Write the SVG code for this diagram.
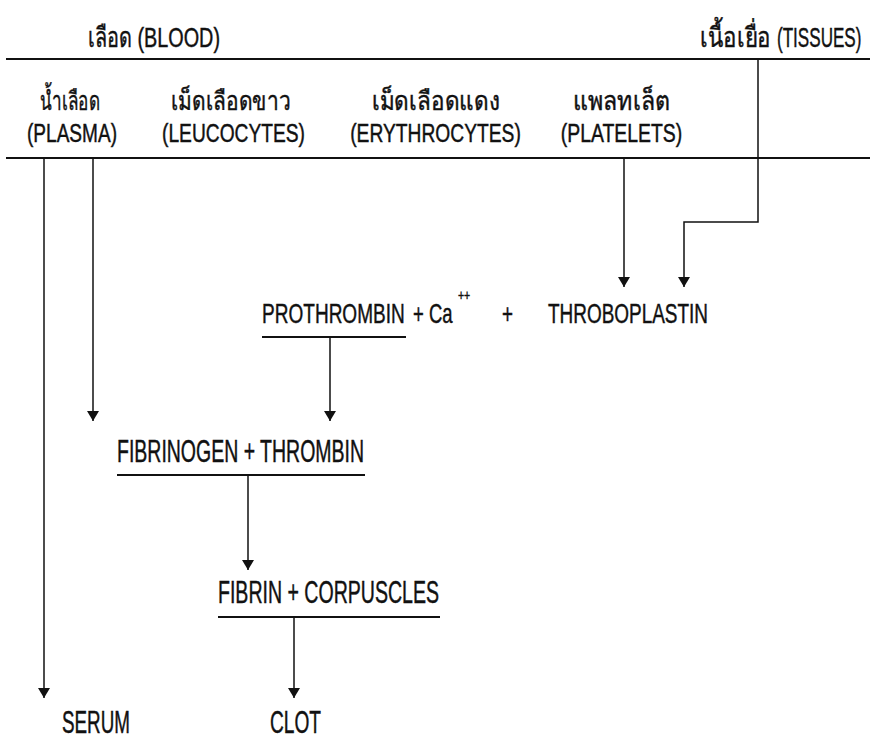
<svg xmlns="http://www.w3.org/2000/svg" width="870" height="740" viewBox="0 0 870 740">
<defs>
<marker id="ah" markerUnits="userSpaceOnUse" markerWidth="12" markerHeight="12" refX="10" refY="6" orient="auto" viewBox="0 0 12 12">
<path d="M0,0 L10,6 L0,12 z" fill="#111"/>
</marker>
<style>
text{font-family:"Liberation Sans","DejaVu Sans","Noto Sans",sans-serif;fill:#111;stroke:#111;stroke-width:0.45}
.t{font-size:28px}
.r{font-size:26px;text-anchor:middle}
.b{font-size:31px}
.rule{stroke:#111;stroke-width:2;fill:none}
.con{stroke:#111;stroke-width:1.5;fill:none;marker-end:url(#ah)}
</style>
</defs>
<rect width="870" height="740" fill="#fff"/>
<g id="rules">
<line class="rule" x1="6" y1="59" x2="870" y2="59"/>
<line class="rule" x1="6" y1="158" x2="870" y2="158"/>
</g>
<g id="blood"><text class="t" x="88" y="47" textLength="132" lengthAdjust="spacingAndGlyphs">เลือด (BLOOD)</text></g>
<g id="tissues"><text class="t" x="771" y="47" text-anchor="end" textLength="71" lengthAdjust="spacingAndGlyphs">เนื้อเยื่อ</text><text class="t" transform="translate(777,47) scale(0.61,1)" x="0" y="0">(TISSUES)</text></g>
<g id="plasma"><text class="r" x="70" y="110" textLength="60" lengthAdjust="spacingAndGlyphs">น้ำเลือด</text><text class="r" x="72" y="142" textLength="90" lengthAdjust="spacingAndGlyphs">(PLASMA)</text></g>
<g id="leucocytes"><text class="r" x="231" y="110" textLength="120" lengthAdjust="spacingAndGlyphs">เม็ดเลือดขาว</text><text class="r" x="233.5" y="142" textLength="143" lengthAdjust="spacingAndGlyphs">(LEUCOCYTES)</text></g>
<g id="erythrocytes"><text class="r" x="436" y="110" textLength="128" lengthAdjust="spacingAndGlyphs">เม็ดเลือดแดง</text><text class="r" transform="translate(435.5,142) scale(0.74,1)" x="0" y="0">(ERYTHROCYTES)</text></g>
<g id="platelets"><text class="r" x="621.5" y="110" textLength="97" lengthAdjust="spacingAndGlyphs">แพลทเล็ต</text><text class="r" transform="translate(621.5,142) scale(0.747,1)" x="0" y="0">(PLATELETS)</text></g>
<g id="prothrombin"><text class="t" transform="translate(262,323) scale(0.68,1)" x="0" y="0">PROTHROMBIN</text><line class="rule" x1="262" y1="337" x2="406" y2="337"/></g>
<g id="calcium"><text class="t" transform="translate(413,323) scale(0.66,1)" x="0" y="0">+ Ca</text><text transform="translate(458,300) scale(0.75,1)" x="0" y="0" font-size="14" stroke="none">++</text></g>
<g id="plus"><text class="t" x="502" y="323" textLength="11" lengthAdjust="spacingAndGlyphs">+</text></g>
<g id="throboplastin"><text class="t" x="548" y="323" textLength="160" lengthAdjust="spacingAndGlyphs">THROBOPLASTIN</text></g>
<g id="fibrinogen"><text class="b" x="117" y="462" textLength="247" lengthAdjust="spacingAndGlyphs">FIBRINOGEN + THROMBIN</text><line class="rule" x1="117" y1="475" x2="365" y2="475" stroke-width="2.5"/></g>
<g id="fibrin"><text class="b" x="218" y="603" textLength="221" lengthAdjust="spacingAndGlyphs">FIBRIN + CORPUSCLES</text><line class="rule" x1="218" y1="617" x2="440" y2="617" stroke-width="2.5"/></g>
<g id="serum"><text class="b" x="62" y="733" textLength="68" lengthAdjust="spacingAndGlyphs">SERUM</text></g>
<g id="clot"><text class="b" x="270" y="733" textLength="51" lengthAdjust="spacingAndGlyphs">CLOT</text></g>
<g id="connectors">
<path class="con" d="M44,158 V698"/>
<path class="con" d="M93,158 V421"/>
<path class="con" d="M624,158 V287"/>
<path class="con" d="M758,59 V222 H684 V287"/>
<path class="con" d="M330,337 V421"/>
<path class="con" d="M248,475 V570"/>
<path class="con" d="M294,617 V698"/>
</g>
</svg>
